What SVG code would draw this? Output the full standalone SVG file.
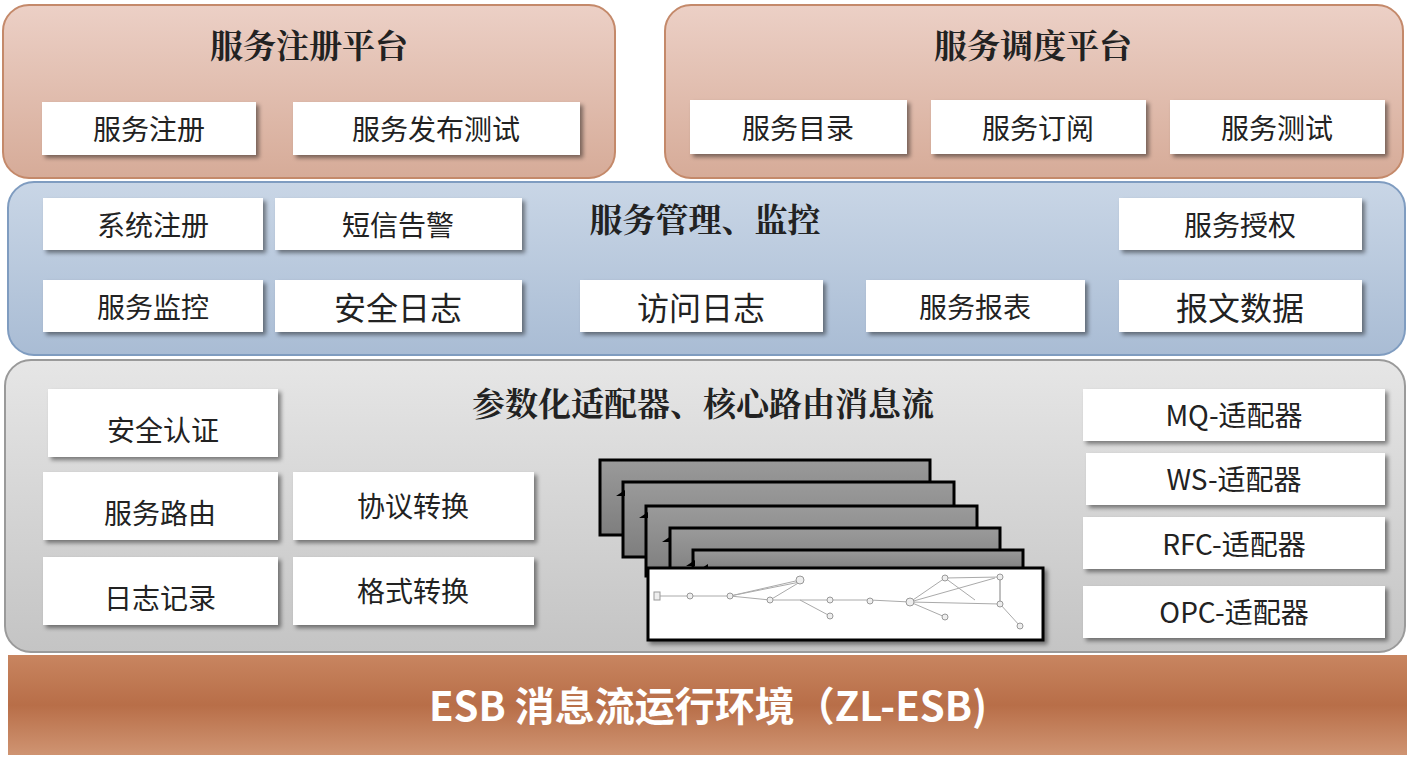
<svg xmlns="http://www.w3.org/2000/svg" width="1411" height="758" viewBox="0 0 1411 758">
<defs>
<linearGradient id="gTop" x1="0" y1="0" x2="0" y2="1"><stop offset="0" stop-color="#ecd0c6"/><stop offset="1" stop-color="#d6ab98"/></linearGradient>
<linearGradient id="gBlue" x1="0" y1="0" x2="0" y2="1"><stop offset="0" stop-color="#c9d6e6"/><stop offset="1" stop-color="#a9bcd4"/></linearGradient>
<linearGradient id="gGrey" x1="0" y1="0" x2="0" y2="1"><stop offset="0" stop-color="#e6e6e6"/><stop offset="1" stop-color="#c4c4c4"/></linearGradient>
<linearGradient id="gBar" x1="0" y1="0" x2="0" y2="1"><stop offset="0" stop-color="#c88560"/><stop offset="0.5" stop-color="#b86e48"/><stop offset="1" stop-color="#cf9472"/></linearGradient>
<linearGradient id="gSheet" x1="0" y1="0" x2="0" y2="1"><stop offset="0" stop-color="#9a9a9a"/><stop offset="1" stop-color="#7e7e7e"/></linearGradient>
<filter id="sh" x="-10%" y="-10%" width="130%" height="140%"><feDropShadow dx="3" dy="3" stdDeviation="2" flood-color="#000" flood-opacity="0.45"/></filter>
</defs>
<style>
.box{fill:#fff;filter:url(#sh)}
.t{font-family:"Noto Sans CJK SC","Liberation Sans",sans-serif;font-size:28px;fill:#222;text-anchor:middle;dominant-baseline:central}
.h{font-family:"Noto Serif CJK SC","Noto Sans CJK SC",sans-serif;font-size:33px;font-weight:bold;fill:#222;text-anchor:middle;dominant-baseline:central}
.sheet{fill:url(#gSheet);stroke:#000;stroke-width:3}
.fl{stroke:#aaa;stroke-width:1;fill:none}
.fn{fill:#eee;stroke:#999;stroke-width:1}
</style>
<g id="bar"><rect x="8" y="655" width="1399" height="100" fill="url(#gBar)"/>
<text x="708" y="704" class="t" style="fill:#fff;font-weight:bold;font-size:40px">ESB 消息流运行环境（ZL-ESB)</text></g>
<g id="reg-platform"><rect x="3" y="5" width="612" height="173" rx="26" fill="url(#gTop)" stroke="#c4896a" stroke-width="2"/>
<text x="309" y="43" class="h">服务注册平台</text>
<g id="n-reg"><rect class="box" x="42" y="102" width="214" height="53"/><text x="149" y="128" class="t">服务注册</text></g>
<g id="n-pub"><rect class="box" x="293" y="102" width="287" height="53"/><text x="436" y="128" class="t">服务发布测试</text></g></g>
<g id="sched-platform"><rect x="665" y="5" width="738" height="173" rx="26" fill="url(#gTop)" stroke="#c4896a" stroke-width="2"/>
<text x="1033" y="43" class="h">服务调度平台</text>
<g id="n-cat"><rect class="box" x="690" y="100" width="217" height="54"/><text x="798" y="127" class="t">服务目录</text></g>
<g id="n-sub"><rect class="box" x="931" y="100" width="215" height="54"/><text x="1038" y="127" class="t">服务订阅</text></g>
<g id="n-test"><rect class="box" x="1170" y="100" width="215" height="54"/><text x="1277" y="127" class="t">服务测试</text></g></g>
<g id="mgmt"><rect x="8" y="182" width="1397" height="173" rx="26" fill="url(#gBlue)" stroke="#7f9cc0" stroke-width="2"/>
<text x="705" y="217" class="h">服务管理、监控</text>
<g id="n-sys"><rect class="box" x="43" y="198" width="220" height="52"/><text x="153" y="224" class="t">系统注册</text></g>
<g id="n-sms"><rect class="box" x="275" y="198" width="247" height="52"/><text x="398" y="224" class="t">短信告警</text></g>
<g id="n-auth"><rect class="box" x="1119" y="198" width="243" height="52"/><text x="1240" y="224" class="t">服务授权</text></g>
<g id="n-mon"><rect class="box" x="43" y="280" width="220" height="52"/><text x="153" y="306" class="t">服务监控</text></g>
<g id="n-seclog"><rect class="box" x="275" y="280" width="247" height="52"/><text x="398" y="306" class="t" style="font-size:32px">安全日志</text></g>
<g id="n-acclog"><rect class="box" x="580" y="280" width="243" height="52"/><text x="701" y="306" class="t" style="font-size:32px">访问日志</text></g>
<g id="n-rep"><rect class="box" x="866" y="280" width="219" height="52"/><text x="975" y="306" class="t">服务报表</text></g>
<g id="n-msg"><rect class="box" x="1119" y="280" width="243" height="52"/><text x="1240" y="306" class="t" style="font-size:32px">报文数据</text></g></g>
<g id="adapt"><rect x="5" y="360" width="1400" height="292" rx="26" fill="url(#gGrey)" stroke="#9a9a9a" stroke-width="2"/>
<text x="703" y="401" class="h">参数化适配器、核心路由消息流</text>
<g id="n-sec"><rect class="box" x="48" y="389" width="230" height="68"/><text x="163" y="429" class="t">安全认证</text></g>
<g id="n-route"><rect class="box" x="43" y="472" width="235" height="68"/><text x="160" y="512" class="t">服务路由</text></g>
<g id="n-log"><rect class="box" x="43" y="557" width="235" height="68"/><text x="160" y="597" class="t">日志记录</text></g>
<g id="n-proto"><rect class="box" x="293" y="472" width="241" height="68"/><text x="413" y="505" class="t">协议转换</text></g>
<g id="n-fmt"><rect class="box" x="293" y="557" width="241" height="68"/><text x="413" y="590" class="t">格式转换</text></g>
<g id="n-mq"><rect class="box" x="1083" y="389" width="302" height="52"/><text x="1234" y="414" class="t">MQ-适配器</text></g>
<g id="n-ws"><rect class="box" x="1086" y="453" width="299" height="52"/><text x="1234" y="478" class="t">WS-适配器</text></g>
<g id="n-rfc"><rect class="box" x="1083" y="517" width="302" height="52"/><text x="1234" y="543" class="t">RFC-适配器</text></g>
<g id="n-opc"><rect class="box" x="1083" y="586" width="302" height="52"/><text x="1234" y="611" class="t">OPC-适配器</text></g>
<g id="flows">
<rect class="sheet" x="600" y="460" width="330" height="75"/>
<rect class="sheet" x="623" y="482" width="331" height="75"/>
<rect class="sheet" x="646" y="506" width="331" height="70"/>
<rect class="sheet" x="670" y="528" width="330" height="50"/>
<rect class="sheet" x="693" y="550" width="330" height="22"/>
<path d="M616 496l9-6v6zM639 518l9-6v6zM662 542l9-6v6zM686 566l9-6v6zM699 570l9-6v4z" fill="#000"/>
<rect x="648" y="568" width="395" height="72" fill="#fff" stroke="#000" stroke-width="3" filter="url(#sh)"/>
<g id="thumb">
<path class="fl" d="M657 596H690H730L800 580M730 596L800 582M730 596L770 600L800 582M770 600H830H870L910 602M800 600L830 616M910 602L945 578L1000 577M910 602L995 578M910 602L1000 604M945 578L975 600M1000 604L1000 577M910 602L945 617M1000 604L1020 626M1000 577L1000 604"/>
<g class="fn"><rect x="654" y="592" width="6" height="8"/><circle cx="690" cy="596" r="3"/><circle cx="730" cy="596" r="3"/><circle cx="800" cy="580" r="4"/><circle cx="770" cy="600" r="3"/><circle cx="830" cy="600" r="3"/><circle cx="870" cy="601" r="3"/><circle cx="830" cy="616" r="3"/><circle cx="910" cy="602" r="4"/><circle cx="945" cy="578" r="3"/><circle cx="1000" cy="577" r="3"/><circle cx="945" cy="617" r="3"/><circle cx="1000" cy="604" r="3"/><circle cx="1020" cy="626" r="3"/></g>
</g></g></g>
</svg>
